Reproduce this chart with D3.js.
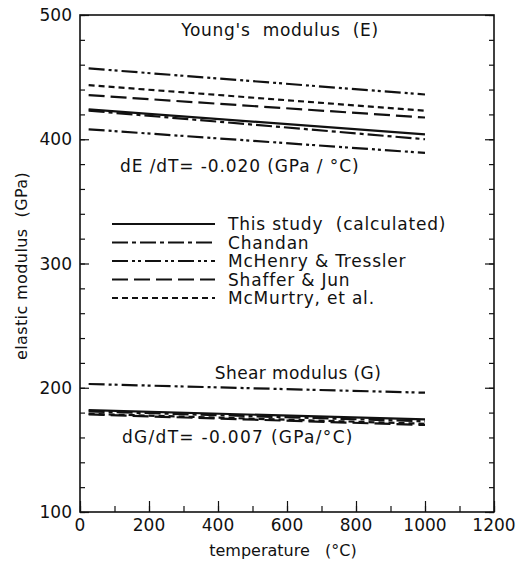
<!DOCTYPE html>
<html><head><meta charset="utf-8">
<script src="https://cdn.jsdelivr.net/npm/d3@7"></script>
<style>body{margin:0;background:#fff}svg text{font-family:"DejaVu Sans",sans-serif;fill:#111}</style>
</head><body><svg id="c" width="516" height="565"></svg>
<script>
const temps = [25, 1000];
const seriesNames = ["This study  (calculated)", "Chandan", "McHenry & Tressler", "Shaffer & Jun", "McMurtry, et al."];
const dashes = ["none", "16,4,4,4", "16,4,3,3,3,4", "16,6", "6,4"];
// Young's modulus lines [series index, E at 25°C, E at 1000°C]
const youngSeries = [0, 1, 2, 2, 3, 4];
const youngStart = [424, 423, 457, 408, 435.5, 443.5];
const youngEnd   = [404, 400, 436, 389, 417.5, 423];
// Shear modulus lines
const shearSeries = [0, 1, 2, 3, 4];
const shearStart = [182, 181, 203, 178.5, 179];
const shearEnd   = [174.5, 173, 196, 170, 171];
const xTicks = [0, 200, 400, 600, 800, 1000, 1200];
const yTicks = [100, 200, 300, 400, 500];

const svg = d3.select("#c");
const L = 80, R = 494, T = 15, B = 512;
const x = d3.scaleLinear().domain([0, 1200]).range([L, R]);
const y = d3.scaleLinear().domain([100, 500]).range([B, T]);

// frame
svg.append("rect").attr("x", L).attr("y", T).attr("width", R - L).attr("height", B - T)
  .attr("fill", "none").attr("stroke", "#111").attr("stroke-width", 1.6);

// axes with inward ticks
const yMinor = d3.range(100, 501, 20);
const xMinor = d3.range(0, 1201, 100);
svg.append("g").attr("transform", `translate(${L},0)`)
  .call(d3.axisRight(y).tickValues(yMinor).tickSize(5).tickFormat(""))
  .call(g => g.select(".domain").remove());
svg.append("g").attr("transform", `translate(${L},0)`)
  .call(d3.axisRight(y).tickValues(yTicks).tickSize(9).tickFormat(""))
  .call(g => g.select(".domain").remove());
svg.append("g").attr("transform", `translate(${R},0)`)
  .call(d3.axisLeft(y).tickValues(yMinor).tickSize(5).tickFormat(""))
  .call(g => g.select(".domain").remove());
svg.append("g").attr("transform", `translate(${R},0)`)
  .call(d3.axisLeft(y).tickValues(yTicks).tickSize(9).tickFormat(""))
  .call(g => g.select(".domain").remove());
svg.append("g").attr("transform", `translate(0,${B})`)
  .call(d3.axisTop(x).tickValues(xMinor).tickSize(6).tickFormat(""))
  .call(g => g.select(".domain").remove());
svg.append("g").attr("transform", `translate(0,${B})`)
  .call(d3.axisTop(x).tickValues(xTicks).tickSize(11).tickFormat(""))
  .call(g => g.select(".domain").remove());
svg.selectAll(".tick line").attr("stroke", "#111").attr("stroke-width", 1.2);

// tick labels
svg.append("g").selectAll("text").data(yTicks).join("text")
  .attr("x", L - 8).attr("y", d => y(d) + 6).attr("text-anchor", "end")
  .attr("font-size", 17).text(d => d);
svg.append("g").selectAll("text").data(xTicks).join("text")
  .attr("x", d => x(d)).attr("y", B + 19).attr("text-anchor", "middle")
  .attr("font-size", 17).text(d => d);

// axis titles
svg.append("text").attr("x", 283).attr("y", 556).attr("text-anchor", "middle")
  .attr("font-size", 16).attr("xml:space", "preserve").text("temperature   (°C)");
svg.append("text").attr("transform", "translate(27,266) rotate(-90)").attr("text-anchor", "middle")
  .attr("font-size", 16).attr("letter-spacing", 0.4).attr("xml:space", "preserve").text("elastic modulus  (GPa)");

const line = d3.line().x(d => x(d[0])).y(d => y(d[1]));
function drawSet(idx, st, en) {
  svg.append("g").selectAll("path").data(idx.map((s, i) => ({s, pts: [[temps[0], st[i]], [temps[1], en[i]]]})))
    .join("path").attr("d", d => line(d.pts)).attr("fill", "none").attr("stroke", "#111")
    .attr("stroke-width", 2.2).attr("stroke-dasharray", d => dashes[d.s]);
}
drawSet(youngSeries, youngStart, youngEnd);
drawSet(shearSeries, shearStart, shearEnd);

// annotations
svg.append("text").attr("x", 280).attr("y", 36).attr("text-anchor", "middle").attr("font-size", 17)
  .attr("letter-spacing", 0.7).attr("xml:space", "preserve").text("Young's  modulus  (E)");
svg.append("text").attr("x", 120).attr("y", 172).attr("font-size", 17)
  .attr("letter-spacing", 0.9).attr("xml:space", "preserve").text("dE /dT= -0.020 (GPa / °C)");
svg.append("text").attr("x", 298).attr("y", 379).attr("text-anchor", "middle").attr("font-size", 17)
  .attr("letter-spacing", 0.4).attr("xml:space", "preserve").text("Shear modulus (G)");
svg.append("text").attr("x", 122).attr("y", 443).attr("font-size", 17)
  .attr("letter-spacing", 1.3).attr("xml:space", "preserve").text("dG/dT= -0.007 (GPa/°C)");

// legend
const lg = svg.append("g");
seriesNames.forEach((n, i) => {
  const yy = 224 + i * 18.5;
  lg.append("line").attr("x1", 112).attr("x2", 215).attr("y1", yy).attr("y2", yy)
    .attr("stroke", "#111").attr("stroke-width", 2).attr("stroke-dasharray", dashes[i]);
  lg.append("text").attr("x", 228).attr("y", yy + 6).attr("font-size", 17)
    .attr("letter-spacing", 0.8).attr("xml:space", "preserve").text(n);
});
</script></body></html>
